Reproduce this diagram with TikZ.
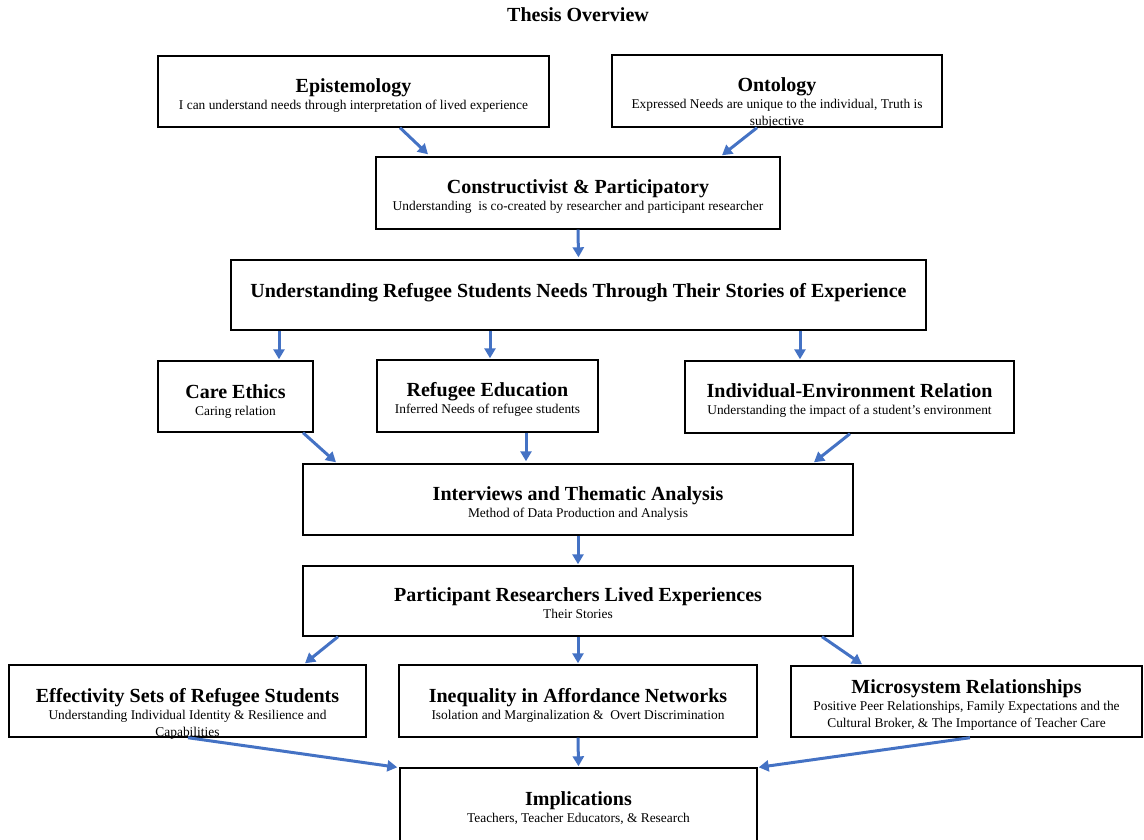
\documentclass[tikz,border=0pt]{standalone}
\usepackage{fontspec}
\setmainfont{Liberation Serif}
\usetikzlibrary{arrows.meta}
\definecolor{arrowblue}{HTML}{4472C4}

% box with a bold heading and a smaller description underneath
% #1 name, #2/#3 centre, #4/#5 size, #6 heading baseline below top, #7 heading, #8 description
\newcommand\flowbox[8]{%
  \node[box, minimum width=#4pt, minimum height=#5pt] (#1) at (#2,#3) {};
  \node[heading, anchor=base] (#1-h) at ([yshift=-#6pt]#1.north) {#7};
  \node[desc, anchor=north] (#1-d) at ([yshift=-8pt]#1-h.base) {#8};
}

\begin{document}
\begin{tikzpicture}[x=1pt, y=-1pt,
  box/.style={draw=black, line width=1.4pt, fill=white, inner sep=0pt},
  heading/.style={inner sep=0pt, font=\fontsize{20}{24}\selectfont\bfseries},
  desc/.style={inner sep=0pt, align=center, font=\fontsize{13.4}{17}\selectfont},
  arr/.style={draw=arrowblue, line width=3pt, -{Triangle[length=10pt,width=11pt]}}]

\useasboundingbox (0,0) rectangle (1144,839);

\node[heading, anchor=base] (title) at (578,21) {Thesis Overview};

% philosophical grounding
\flowbox{epi}{353.5}{91.5}{391}{71}{37}{Epistemology}{I can understand needs through interpretation of lived experience}
\flowbox{ont}{777}{91}{330}{72}{37}{Ontology}{Expressed Needs are unique to the individual, Truth is\\subjective}
\flowbox{con}{578}{193}{404}{72}{37}{Constructivist \& Participatory}{Understanding\ \ is co-created by researcher and participant researcher}

% research focus
\node[box, minimum width=695pt, minimum height=70pt] (und) at (578.5,295) {};
\node[heading, anchor=base] (und-h) at ([yshift=-38pt]und.north) {Understanding Refugee Students Needs Through Their Stories of Experience};

% theoretical framework
\flowbox{care}{235.5}{396.5}{155}{71}{38}{Care Ethics}{Caring relation}
\flowbox{redu}{487.5}{396}{221}{72}{37}{Refugee Education}{Inferred Needs of refugee students}
\flowbox{ienv}{849.5}{397}{329}{72}{37}{Individual-Environment Relation}{Understanding the impact of a student’s environment}

% method and data
\flowbox{intv}{578}{499.5}{550}{71}{37}{Interviews and Thematic Analysis}{Method of Data Production and Analysis}
\flowbox{part}{578}{601}{550}{70}{36}{Participant Researchers Lived Experiences}{Their Stories}

% findings
\flowbox{eff}{187.5}{701}{357}{72}{38}{Effectivity Sets of Refugee Students}{Understanding Individual Identity \& Resilience and\\Capabilities}
\flowbox{ineq}{578}{701}{358}{72}{38}{Inequality in Affordance Networks}{Isolation and Marginalization \&\ \ Overt Discrimination}
\flowbox{micro}{966.5}{701.5}{351}{71}{28}{Microsystem Relationships}{Positive Peer Relationships, Family Expectations and the\\Cultural Broker, \& The Importance of Teacher Care}

% outcome
\flowbox{impl}{578.5}{805}{357}{74}{38}{Implications}{Teachers, Teacher Educators, \& Research}

% connectors
\draw[arr] ([xshift=46.5pt]epi.south) -- ([xshift=-150pt,yshift=2pt]con.north);
\draw[arr] ([xshift=-20pt]ont.south) -- ([xshift=144pt,yshift=1pt]con.north);
\draw[arr] (con.south) -- ([yshift=2pt]und.north);

\draw[arr] ([xshift=-299.5pt]und.south) -- ([xshift=43.5pt,yshift=1pt]care.north);
\draw[arr] ([xshift=-88.5pt]und.south) -- ([xshift=2.5pt,yshift=1pt]redu.north);
\draw[arr] ([xshift=221.5pt]und.south) -- ([xshift=-49.5pt,yshift=1pt]ienv.north);

\draw[arr] ([xshift=67.5pt]care.south) -- ([xshift=-242pt,yshift=1pt]intv.north);
\draw[arr] ([xshift=38.5pt]redu.south) -- ([xshift=-52pt,yshift=2pt]intv.north);
\draw[arr] ([xshift=0.5pt]ienv.south) -- ([xshift=236pt,yshift=1pt]intv.north);

\draw[arr] (intv.south) -- ([yshift=1pt]part.north);

\draw[arr] ([xshift=-240pt]part.south) -- ([xshift=117.5pt,yshift=1pt]eff.north);
\draw[arr] (part.south) -- ([yshift=1pt]ineq.north);
\draw[arr] ([xshift=244pt]part.south) -- ([xshift=-104.5pt,yshift=1pt]micro.north);

\draw[arr] ([xshift=0.5pt]eff.south) -- ([xshift=-2pt]impl.north west);
\draw[arr] ([xshift=3.5pt]micro.south) -- ([xshift=1pt]impl.north east);
\draw[arr] (ineq.south) -- ([yshift=1pt]impl.north);

\end{tikzpicture}
\end{document}
